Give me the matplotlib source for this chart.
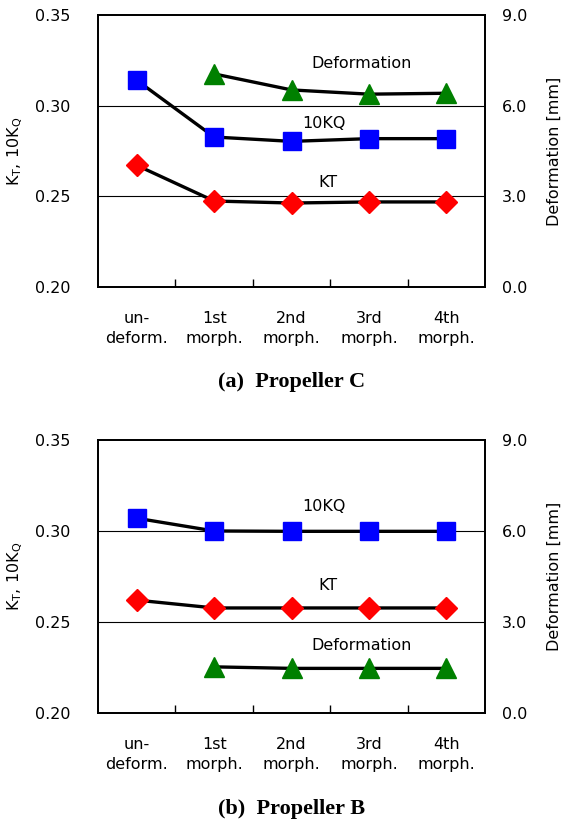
import matplotlib.pyplot as plt

# categories on x axis
stages = ["un-\ndeform.", "1st\nmorph.", "2nd\nmorph.", "3rd\nmorph.", "4th\nmorph."]
x = list(range(len(stages)))

# Propeller C
kq10_c = [0.314, 0.2827, 0.2803, 0.2818, 0.2818]
kt_c = [0.2671, 0.2474, 0.2463, 0.2469, 0.2469]
deform_c = [7.05, 6.52, 6.38, 6.41]  # from 1st morph.

# Propeller B
kq10_b = [0.307, 0.3000, 0.2998, 0.2998, 0.2998]
kt_b = [0.262, 0.2577, 0.2577, 0.2577, 0.2577]
deform_b = [1.52, 1.47, 1.47, 1.47]

LW = 2.4


def draw_panel(ax, kq, kt, dfm, title, lbl_pos):
    ax.set_xlim(-0.5, 4.5)
    ax.set_ylim(0.20, 0.35)
    ax.set_yticks([0.20, 0.25, 0.30, 0.35])
    ax.set_yticklabels(["0.20", "0.25", "0.30", "0.35"])
    for g in [0.25, 0.30]:
        ax.axhline(g, color="k", lw=0.8, zorder=0)

    ax.plot(x, kq, color="k", lw=LW, marker="s", ms=13,
            mfc="#0000ff", mec="#0000ff", zorder=3)
    ax.plot(x, kt, color="k", lw=LW, marker="D", ms=11,
            mfc="#ff0000", mec="#ff0000", zorder=3)

    ax.set_xticks(x)
    ax.set_xticklabels(stages, fontsize=11.5, linespacing=1.45)
    ax.set_xticks([0.5, 1.5, 2.5, 3.5], minor=True)
    ax.tick_params(axis="x", which="major", length=0, pad=17)
    ax.tick_params(axis="x", which="minor", direction="in", length=6, width=1)
    ax.tick_params(axis="y", length=0, labelsize=11.5, pad=20)
    ax.set_ylabel(r"K$_\mathrm{T}$, 10K$_\mathrm{Q}$", fontsize=11.5, labelpad=7)

    ax2 = ax.twinx()
    ax2.set_ylim(0, 9)
    ax2.set_yticks([0, 3, 6, 9])
    ax2.set_yticklabels(["0.0", "3.0", "6.0", "9.0"])
    ax2.tick_params(axis="y", length=0, labelsize=11.5, pad=12)
    ax2.plot(x[1:], dfm, color="k", lw=LW, marker="^", ms=14,
             mfc="#008000", mec="#008000", zorder=3)
    ax2.set_ylabel("Deformation [mm]", fontsize=11.5, labelpad=14)

    for s in list(ax.spines.values()) + list(ax2.spines.values()):
        s.set_linewidth(1.3)

    for txt, (tx, ty) in lbl_pos.items():
        ax.text(tx, ty, txt, ha="center", va="center", fontsize=11.5, zorder=5)

    ax.text(0.5, -0.35, title, transform=ax.transAxes, ha="center", va="center",
            fontsize=16, fontweight="bold", family="Liberation Serif")


fig = plt.figure(figsize=(5.65, 8.23), dpi=100)
ax_a = fig.add_axes([0.1735, 0.6513, 0.685, 0.3305])
ax_b = fig.add_axes([0.1735, 0.1337, 0.685, 0.3317])

draw_panel(ax_a, kq10_c, kt_c, deform_c, "(a)  Propeller C",
           {"Deformation": (2.91, 0.323), "10KQ": (2.42, 0.290), "KT": (2.47, 0.2575)})
draw_panel(ax_b, kq10_b, kt_b, deform_b, "(b)  Propeller B",
           {"Deformation": (2.91, 0.2368), "10KQ": (2.42, 0.3137), "KT": (2.47, 0.2698)})

fig.savefig("out.png", dpi=100)
